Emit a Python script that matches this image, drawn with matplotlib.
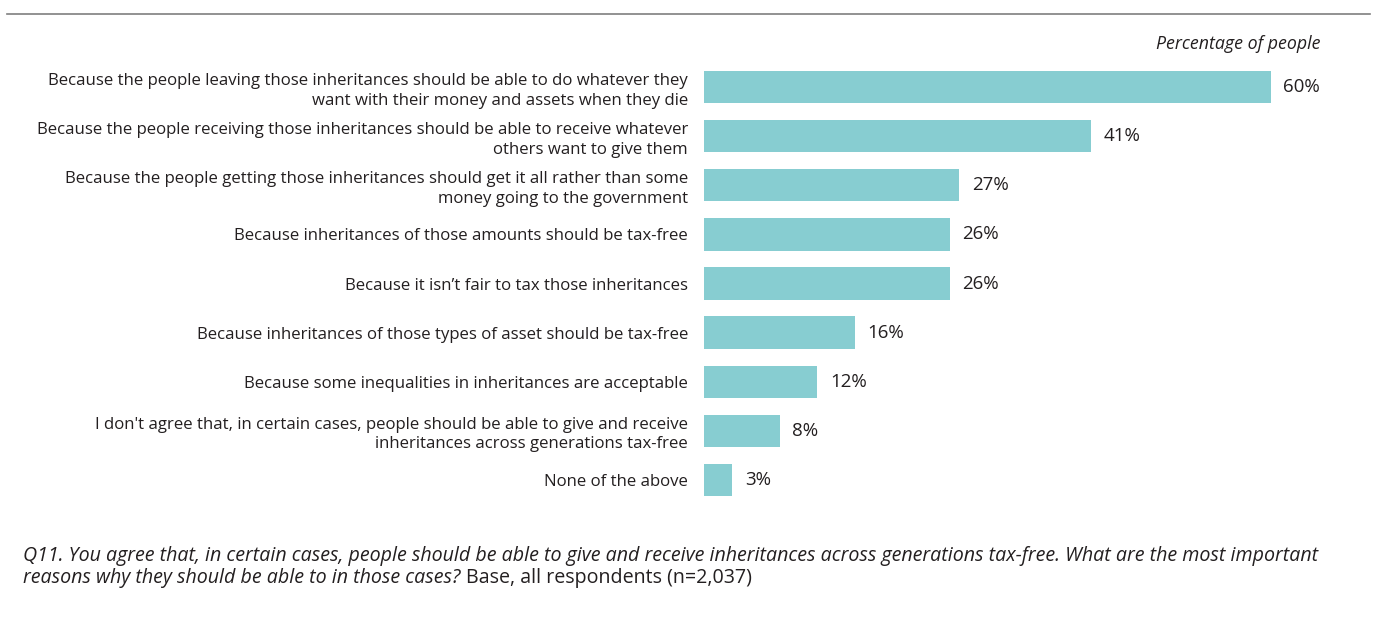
import matplotlib
matplotlib.use("Agg")
import matplotlib.pyplot as plt
from matplotlib.lines import Line2D

plt.rcParams['font.family'] = ['Open Sans', 'DejaVu Sans']

categories = [
    "Because the people leaving those inheritances should be able to do whatever they\nwant with their money and assets when they die",
    "Because the people receiving those inheritances should be able to receive whatever\nothers want to give them",
    "Because the people getting those inheritances should get it all rather than some\nmoney going to the government",
    "Because inheritances of those amounts should be tax-free",
    "Because it isn\u2019t fair to tax those inheritances",
    "Because inheritances of those types of asset should be tax-free",
    "Because some inequalities in inheritances are acceptable",
    "I don't agree that, in certain cases, people should be able to give and receive\ninheritances across generations tax-free",
    "None of the above",
]
values = [60, 41, 27, 26, 26, 16, 12, 8, 3]
value_labels = ["60%", "41%", "27%", "26%", "26%", "16%", "12%", "8%", "3%"]

bar_color = "#87CDD1"
text_color = "#231F20"

fig = plt.figure(figsize=(13.74, 6.32), dpi=100)
ax = fig.add_axes([0.5124, 0.2017, 0.4814, 0.6994])

ypos = list(range(len(categories)))
ax.barh(ypos, values, height=0.66, color=bar_color, edgecolor="none")
ax.set_xlim(0, 70)
ax.set_ylim(len(categories) - 0.5, -0.5)

ax.set_yticks(ypos)
ax.set_yticklabels(categories, fontsize=12.1, color=text_color, linespacing=1.3)
ax.tick_params(axis="y", length=0, pad=11.5)
ax.set_xticks([])
for s in ax.spines.values():
    s.set_visible(False)

for y, v, lab in zip(ypos, values, value_labels):
    ax.annotate(lab, xy=(v, y), xytext=(9, 0), textcoords="offset points",
                va="center", ha="left", fontsize=13.5, color=text_color)

fig.text(1321 / 1374, 1 - 44 / 632, "Percentage of people", ha="right", va="center",
         fontsize=12.8, style="italic", color=text_color)

# thin rule across the top
fig.add_artist(Line2D([7 / 1374, 1370 / 1374], [1 - 14 / 632, 1 - 14 / 632],
                      color="#7F7F7F", linewidth=1.2, transform=fig.transFigure))

note_size = 14.1
fig.text(23 / 1374, 1 - 556 / 632,
         "Q11. You agree that, in certain cases, people should be able to give and receive inheritances across generations tax-free. What are the most important",
         ha="left", va="center", fontsize=note_size, style="italic", color=text_color)
q_part = fig.text(23 / 1374, 1 - 578 / 632,
                  "reasons why they should be able to in those cases? ",
                  ha="left", va="center", fontsize=note_size, style="italic", color=text_color)

# upright base note continues after the italic question on the second line
fig.canvas.draw()
bb = q_part.get_window_extent(fig.canvas.get_renderer())
fig.text(bb.x1 / fig.bbox.width, 1 - 578 / 632, "Base, all respondents (n=2,037)",
         ha="left", va="center", fontsize=note_size, color=text_color)

fig.savefig("out.png", dpi=100, facecolor="white")
